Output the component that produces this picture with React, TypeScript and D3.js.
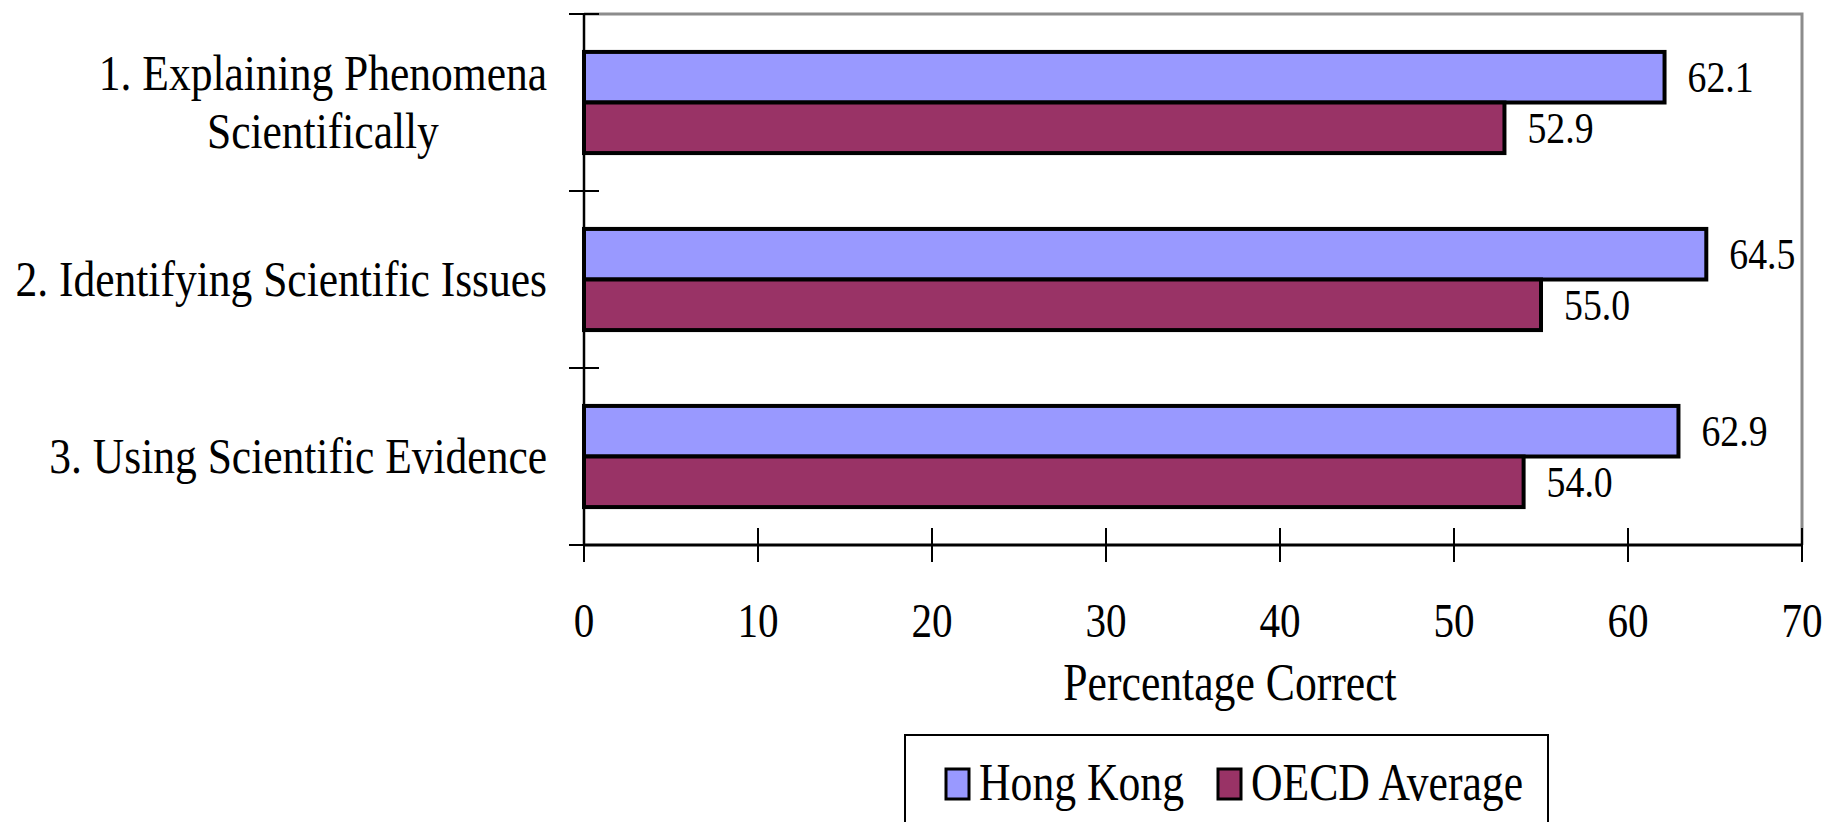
import React, { useEffect, useRef } from "react";
import * as d3 from "d3";

// Categories (line breaks mark wrapped axis labels)
const categories = [
  "1. Explaining Phenomena\nScientifically",
  "2. Identifying Scientific Issues",
  "3. Using Scientific Evidence",
];
const seriesNames = ["Hong Kong", "OECD Average"];
const hongKong = [62.1, 64.5, 62.9];
const oecdAverage = [52.9, 55.0, 54.0];
const seriesValues = [hongKong, oecdAverage];
const seriesColors = ["#9999FF", "#993366"];
const xTicks = [0, 10, 20, 30, 40, 50, 60, 70];
const xTitle = "Percentage Correct";

const W = 1839;
const H = 822;
const FONT = "'Liberation Serif', 'Times New Roman', serif";
const SX = 0.84; // horizontal squeeze of text
const SX_CAT = 0.87; // squeeze for category labels

export default function App() {
  const ref = useRef<SVGSVGElement>(null);

  useEffect(() => {
    document.body.style.margin = "0";
    const svg = d3.select(ref.current);
    svg.selectAll("*").remove();

    const left = 584, right = 1802, top = 14, bottom = 545;

    const x = d3.scaleLinear().domain([0, 70]).range([left, right]);
    const y = d3.scaleBand<string>().domain(categories).range([top, bottom]);
    const ys = d3
      .scaleBand<string>()
      .domain(seriesNames)
      .range([0, y.bandwidth()])
      .paddingInner(0)
      .paddingOuter(0.75);

    const addText = (
      parent: d3.Selection<any, any, any, any>,
      str: string,
      tx: number,
      ty: number,
      size: number,
      anchor: string,
      sx: number = SX
    ) =>
      parent
        .append("text")
        .attr("transform", `translate(${tx},${ty}) scale(${sx},1)`)
        .attr("font-family", FONT)
        .attr("font-size", size)
        .attr("text-anchor", anchor)
        .attr("fill", "#000")
        .text(str);

    // plot area frame (top and right)
    svg
      .append("path")
      .attr("d", `M${left},${top}H${right}V${bottom}`)
      .attr("fill", "none")
      .attr("stroke", "#8c8c8c")
      .attr("stroke-width", 3);

    // bars and value labels
    const fmt = d3.format(".1f");
    categories.forEach((cat, i) => {
      seriesValues.forEach((vals, s) => {
        const by = (y(cat) as number) + (ys(seriesNames[s]) as number);
        const bh = ys.bandwidth();
        svg
          .append("rect")
          .attr("x", x(0))
          .attr("y", by)
          .attr("width", x(vals[i]) - x(0))
          .attr("height", bh)
          .attr("fill", seriesColors[s])
          .attr("stroke", "#000")
          .attr("stroke-width", 4);
        addText(svg, fmt(vals[i]), x(vals[i]) + 23, by + bh / 2 + 15, 45, "start");
      });
    });

    // category axis
    svg
      .append("line")
      .attr("x1", left)
      .attr("x2", left)
      .attr("y1", top)
      .attr("y2", bottom)
      .attr("stroke", "#000")
      .attr("stroke-width", 2.5);
    const bounds = [...categories.map((c) => y(c) as number), bottom];
    bounds.forEach((b) => {
      svg
        .append("line")
        .attr("x1", left - 15)
        .attr("x2", left + 15)
        .attr("y1", b)
        .attr("y2", b)
        .attr("stroke", "#000")
        .attr("stroke-width", 2);
    });

    // category labels, right edge near the axis, wrapped lines centred
    const labelRight = left - 37;
    const lineGap = 58;
    categories.forEach((cat) => {
      const lines = cat.split("\n");
      const cy = (y(cat) as number) + y.bandwidth() / 2;
      const baseY = (k: number) => cy + 16 + (k - (lines.length - 1) / 2) * lineGap;
      const nodes = lines.map((ln, k) => addText(svg, ln, 0, baseY(k), 50, "middle", SX_CAT));
      const maxW =
        d3.max(nodes, (n) => (n.node() as SVGTextElement).getComputedTextLength()) || 0;
      const cx = labelRight - (maxW * SX_CAT) / 2;
      nodes.forEach((n, k) =>
        n.attr("transform", `translate(${cx},${baseY(k)}) scale(${SX_CAT},1)`)
      );
    });

    // value axis
    svg
      .append("line")
      .attr("x1", left)
      .attr("x2", right)
      .attr("y1", bottom)
      .attr("y2", bottom)
      .attr("stroke", "#000")
      .attr("stroke-width", 3);
    xTicks.forEach((t) => {
      svg
        .append("line")
        .attr("x1", x(t))
        .attr("x2", x(t))
        .attr("y1", bottom - 17)
        .attr("y2", bottom + 17)
        .attr("stroke", "#000")
        .attr("stroke-width", 2);
      addText(svg, String(t), x(t), 637, 49, "middle");
    });
    addText(svg, xTitle, 1230, 700, 52, "middle");

    // legend
    const lg = svg.append("g");
    lg.append("rect")
      .attr("x", 905)
      .attr("y", 735)
      .attr("width", 643)
      .attr("height", 130)
      .attr("fill", "#fff")
      .attr("stroke", "#000")
      .attr("stroke-width", 2);
    const itemX = [946, 1218];
    seriesNames.forEach((name, s) => {
      lg.append("rect")
        .attr("x", itemX[s])
        .attr("y", 769)
        .attr("width", 23)
        .attr("height", 30)
        .attr("fill", seriesColors[s])
        .attr("stroke", "#000")
        .attr("stroke-width", 3);
      addText(lg, name, itemX[s] + 33, 800, 52, "start");
    });
  }, []);

  return (
    <svg
      ref={ref}
      width={W}
      height={H}
      viewBox={`0 0 ${W} ${H}`}
      style={{ display: "block", background: "#fff" }}
    />
  );
}
